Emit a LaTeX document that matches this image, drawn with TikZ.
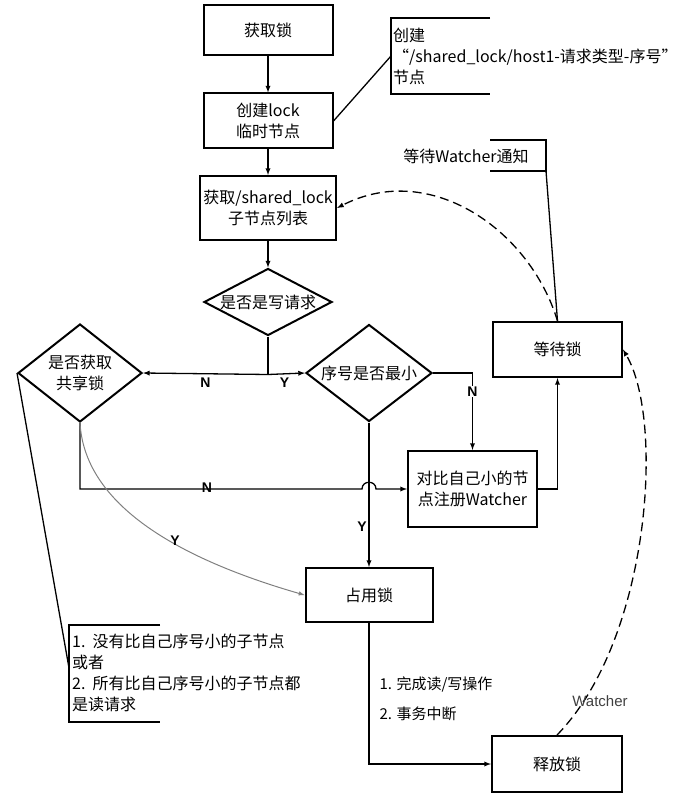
\documentclass[tikz,border=0pt]{standalone}
\usepackage{fontspec}
\setmainfont{Noto Sans CJK SC}
\newfontfamily\latinfont{Liberation Sans}
\usetikzlibrary{shapes.geometric}

\begin{document}
\begin{tikzpicture}[>=latex, x=1pt, y=-1pt, font=\fontsize{16}{21}\selectfont]
    % Styles
    \tikzstyle{stepbox}=[rectangle, draw, line width=2pt, minimum width=129pt, align=center]
    \tikzstyle{cond}=[diamond, draw, line width=2pt, inner sep=0pt]
    \tikzstyle{flow}=[->, line width=1.3pt]
    \tikzstyle{yn}=[font=\latinfont\bfseries\fontsize{14}{16}\selectfont]
    \tikzstyle{note}=[line width=1.3pt]
    \tikzstyle{notetext}=[anchor=west, align=left, inner sep=0pt]

    \useasboundingbox (0,0) rectangle (696,802);

    % Nodes
    \node[stepbox, minimum height=50pt] (get)    at (268,30)    {获取锁};
    \node[stepbox, minimum height=55pt] (create) at (268,121)   {创建lock\\临时节点};
    \node[stepbox, minimum height=64pt] (list)   at (268,208)   {获取/shared\_lock\\子节点列表};
    \node[cond, minimum width=128pt, minimum height=67pt,
          label={center:是否是写请求}] (write) at (268,302) {};
    \node[cond, minimum width=124pt, minimum height=98pt,
          label={[align=center]center:是否获取\\共享锁}] (share) at (80,373) {};
    \node[cond, minimum width=126pt, minimum height=97pt,
          label={center:序号是否最小}] (seq) at (369,373) {};
    \node[stepbox, minimum height=55pt] (wait)    at (557.5,349.5) {等待锁};
    \node[stepbox, minimum height=76pt] (cmp)     at (472.5,489)   {对比自己小的节\\点注册Watcher};
    \node[stepbox, minimum width=127pt, minimum height=54pt] (occupy) at (369,595) {占用锁};
    \node[stepbox, minimum width=130pt, minimum height=56pt] (release) at (557,764) {释放锁};

    % Notes
    \node[notetext] (note1) at (393,56) {创建\\“/shared\_lock/host1-请求类型-序号”\\节点};
    \draw[line width=1.6pt] (490,18) -| (391,94) -- (490,94);
    \coordinate (n1) at (391,56);
    \node (note2) at (466,156) {等待Watcher通知};
    \draw[line width=1.6pt] (490,140) -| (546,171) -- (490,171);
    \coordinate (n2) at (546,171);
    \node[notetext] (note3) at (72,673) {1.\ \ 没有比自己序号小的子节点\\或者\\2.\ \ 所有比自己序号小的子节点都\\是读请求};
    \draw[line width=1.6pt] (160,625) -| (69,722) -- (160,722);
    \coordinate (n3) at (69,668);

    \draw[note] (create.east) -- (n1);
    \draw[note] (wait.north) -- (n2);
    \draw[note] (share.west) -- (n3);

    % Arrows
    \draw[flow] (get) -- (create);
    \draw[flow] (create) -- (list);
    \draw[flow] (list) -- (write);
    \draw[line width=1.3pt] (write.south) -- ++(0,38) coordinate (split);
    \draw[flow] (split) -- node[yn, below, pos=0.5]{N} (share.east);
    \draw[flow] (split) -- node[yn, below, pos=0.45]{Y} (seq.west);
    \draw[flow] (seq.east) -| node[yn, fill=white, inner sep=1pt, pos=0.62]{N} (cmp.north);
    \draw[flow] (cmp.east) -| (wait.south);
    \draw[flow] (share.south) |- (362,489) .. controls (362,480) and (376,480) .. (376,489) -- (cmp.west);
    \node[yn] (nlab) at (207,488) {N};
    \draw[flow] (seq.south) -- (occupy.north);
    \node[yn] (ylab) at (362,527) {Y};
    \draw[->, gray, line width=1pt] (share.south) .. controls (85,510) and (190,562) .. (occupy.west);
    \node[yn] (ylab2) at (175,541) {Y};
    \draw[flow] (occupy.south) |- (release.west);
    \node[anchor=west, font=\fontsize{15}{18}\selectfont] (done) at (376,684) {1. 完成读/写操作};
    \node[anchor=west, font=\fontsize{15}{18}\selectfont] (abort) at (376,714) {2. 事务中断};

    % Watcher
    \draw[->, dashed, line width=1.3pt, dash pattern=on 9pt off 5pt] (wait.north) .. controls (530,230) and (430,160) .. (list.east);
    \draw[->, dashed, line width=1.3pt, dash pattern=on 9pt off 5pt] (release.north) .. controls (650,640) and (665,420) .. (wait.east);
    \node[font=\latinfont\fontsize{15}{17}\selectfont, text=black!75] (wlab) at (600,701) {Watcher};
\end{tikzpicture}
\end{document}
